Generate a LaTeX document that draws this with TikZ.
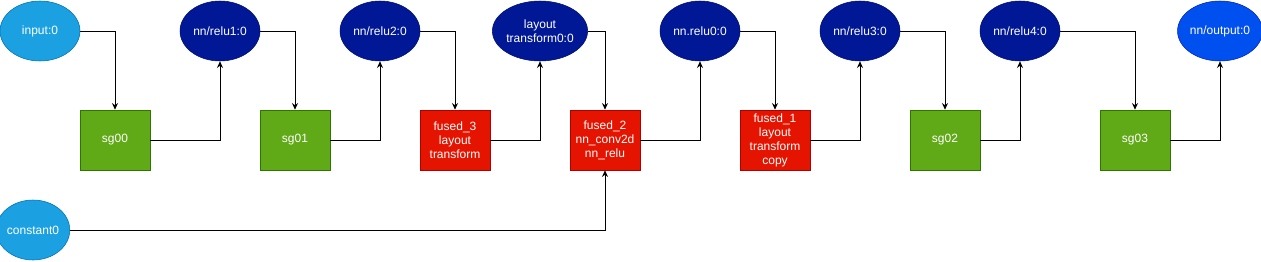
\documentclass[tikz,border=0pt]{standalone}
\usepackage{fontspec}
\setmainfont{Liberation Sans}
\usetikzlibrary{shapes.geometric,arrows.meta}
\definecolor{tenlight}{HTML}{1BA1E2}
\definecolor{tenlightline}{HTML}{006EAF}
\definecolor{tennavy}{HTML}{001896}
\definecolor{tennavyline}{HTML}{000F6E}
\definecolor{tenblue}{HTML}{0050EF}
\definecolor{tenblueline}{HTML}{001DBC}
\definecolor{sggreen}{HTML}{60A917}
\definecolor{sggreenline}{HTML}{2D7600}
\definecolor{fusedred}{HTML}{E51400}
\definecolor{fusedredline}{HTML}{B20000}

\tikzset{
  tensor/.style={ellipse, draw=tennavyline, fill=tennavy, text=white, inner sep=0pt,
    minimum width=60pt, minimum height=45pt, align=center, font=\fontsize{9}{10.5}\selectfont},
  ioten/.style={tensor, draw=tenlightline, fill=tenlight},
  outten/.style={tensor, draw=tenblueline, fill=tenblue},
  subgraph/.style={rectangle, draw=sggreenline, fill=sggreen, text=white, inner sep=0pt,
    minimum width=52.5pt, minimum height=45pt, align=center, font=\fontsize{9}{10.5}\selectfont},
  fusedop/.style={subgraph, draw=fusedredline, fill=fusedred},
  flow/.style={black, line width=0.75pt, -{Stealth[length=5pt,width=4.5pt]}}
}

\begin{document}
\begin{tikzpicture}[x=0.75pt,y=-0.75pt]
  \useasboundingbox (0,0) rectangle (1261,261);
  % tensors
  \node[ioten] (in) at (40,31) {input:0};
  \node[tensor] (r1) at (220,31) {nn/relu1:0};
  \node[tensor] (r2) at (380,31) {nn/relu2:0};
  \node[tensor] (lt) at (540,31) {layout\\transform0:0};
  \node[tensor] (r0) at (700,31) {nn.relu0:0};
  \node[tensor] (r3) at (860,31) {nn/relu3:0};
  \node[tensor] (r4) at (1020,31) {nn/relu4:0};
  \node[outten] (out) at (1220,31) {nn/output:0};
  \node[ioten, minimum width=49.5pt] (c0) at (33,230) {constant0};
  % ops
  \node[subgraph] (sg00) at (115,140) {sg00};
  \node[subgraph] (sg01) at (295,140) {sg01};
  \node[fusedop] (f3) at (455,140) {fused\_3\\layout\\transform};
  \node[fusedop] (f2) at (605,140) {fused\_2\\nn\_conv2d\\nn\_relu};
  \node[fusedop] (f1) at (775,140) {fused\_1\\layout\\transform\\copy};
  \node[subgraph] (sg02) at (945,140) {sg02};
  \node[subgraph] (sg03) at (1135,140) {sg03};
  % edges
  \draw[flow] (in.east) -| (sg00.north);
  \draw[flow] (sg00.east) -| (r1.south);
  \draw[flow] (r1.east) -| (sg01.north);
  \draw[flow] (sg01.east) -| (r2.south);
  \draw[flow] (r2.east) -| (f3.north);
  \draw[flow] (f3.east) -| (lt.south);
  \draw[flow] (lt.east) -| (f2.north);
  \draw[flow] (c0.east) -| (f2.south);
  \draw[flow] (f2.east) -| (r0.south);
  \draw[flow] (r0.east) -| (f1.north);
  \draw[flow] (f1.east) -| (r3.south);
  \draw[flow] (r3.east) -| (sg02.north);
  \draw[flow] (sg02.east) -| (r4.south);
  \draw[flow] (r4.east) -| (sg03.north);
  \draw[flow] (sg03.east) -| (out.south);
\end{tikzpicture}
\end{document}
